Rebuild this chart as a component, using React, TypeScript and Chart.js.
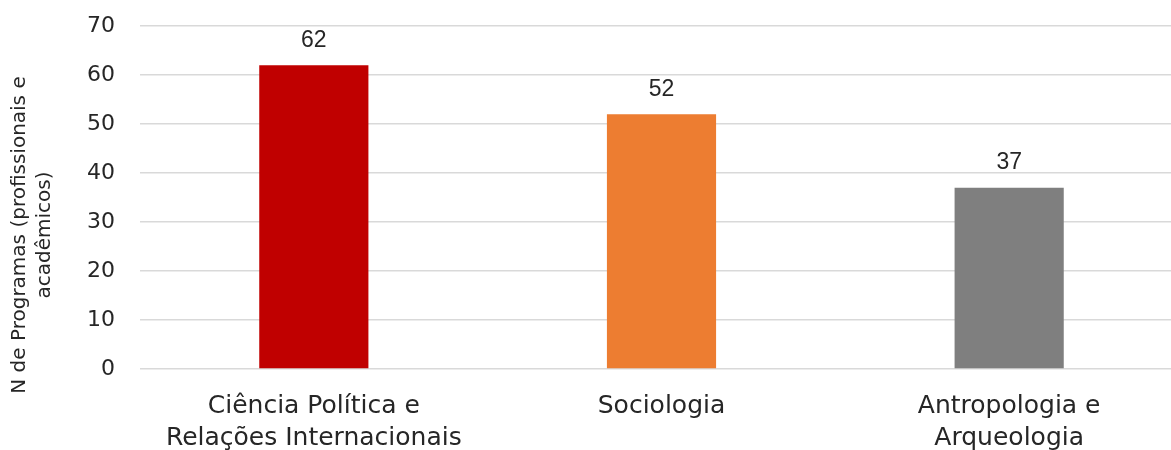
import React, { useEffect, useRef } from "react";
import { Chart, registerables } from "chart.js";

Chart.register(...registerables);

const categories: string[][] = [
  ["Ciência Política e", "Relações Internacionais"],
  ["Sociologia"],
  ["Antropologia e", "Arqueologia"],
];
const values: number[] = [62, 52, 37];
const barColors: string[] = ["#C00000", "#ED7D31", "#7F7F7F"];
const yTitle: string[] = ["N de Programas (profissionais e", "acadêmicos)"];

const FONT = "'DejaVu Sans', sans-serif";

const dataLabels = {
  id: "dataLabels",
  afterDatasetsDraw(chart: any) {
    const ctx = chart.ctx;
    const meta = chart.getDatasetMeta(0);
    ctx.save();
    ctx.font = `23px 'Liberation Sans', Arial, sans-serif`;
    ctx.fillStyle = "#262626";
    ctx.textAlign = "center";
    ctx.textBaseline = "middle";
    meta.data.forEach((el: any, i: number) => {
      ctx.fillText(String(values[i]), el.x, el.y - 25);
    });
    ctx.restore();
  },
};

const yTitlePlugin = {
  id: "yTitlePlugin",
  afterDraw(chart: any) {
    const ctx = chart.ctx;
    ctx.save();
    ctx.font = `20px ${FONT}`;
    ctx.fillStyle = "#262626";
    ctx.textAlign = "center";
    ctx.textBaseline = "middle";
    ctx.translate(0, 235);
    ctx.rotate(-Math.PI / 2);
    ctx.fillText(yTitle[0], 0, 20);
    ctx.fillText(yTitle[1], 0, 45);
    ctx.restore();
  },
};

export default function App() {
  const ref = useRef<HTMLCanvasElement>(null);
  useEffect(() => {
    if (!ref.current) return;
    const chart = new Chart(ref.current, {
      type: "bar",
      data: {
        labels: categories,
        datasets: [
          {
            data: values,
            backgroundColor: barColors,
            barPercentage: 0.314,
            categoryPercentage: 1,
          },
        ],
      },
      options: {
        animation: false,
        responsive: false,
        maintainAspectRatio: false,
        layout: { padding: { top: 26, right: 0, left: 0, bottom: 0 } },
        plugins: { legend: { display: false }, tooltip: { enabled: false } },
        scales: {
          x: {
            grid: { display: false, drawTicks: false },
            border: { display: false },
            ticks: {
              color: "#262626",
              font: { family: FONT, size: 25, lineHeight: 1.28 },
              padding: 21,
              maxRotation: 0,
              autoSkip: false,
            },
            afterFit(scale: any) {
              scale.height = 81;
              scale.paddingLeft = 0;
              scale.paddingRight = 0;
            },
          },
          y: {
            min: 0,
            max: 70,
            ticks: {
              stepSize: 10,
              color: "#262626",
              font: { family: FONT, size: 22 },
              padding: 25,
            },
            grid: { color: "#D9D9D9", lineWidth: 1.5, drawTicks: false },
            border: { display: false },
            afterFit(scale: any) {
              scale.width = 140;
              scale.paddingTop = 0;
              scale.paddingBottom = 0;
            },
          },
        },
      },
      plugins: [dataLabels, yTitlePlugin],
    });
    return () => chart.destroy();
  }, []);
  return (
    <div style={{ position: "absolute", left: 0, top: 0, width: 1183, height: 450 }}>
      <canvas ref={ref} width={1183} height={450} />
    </div>
  );
}
